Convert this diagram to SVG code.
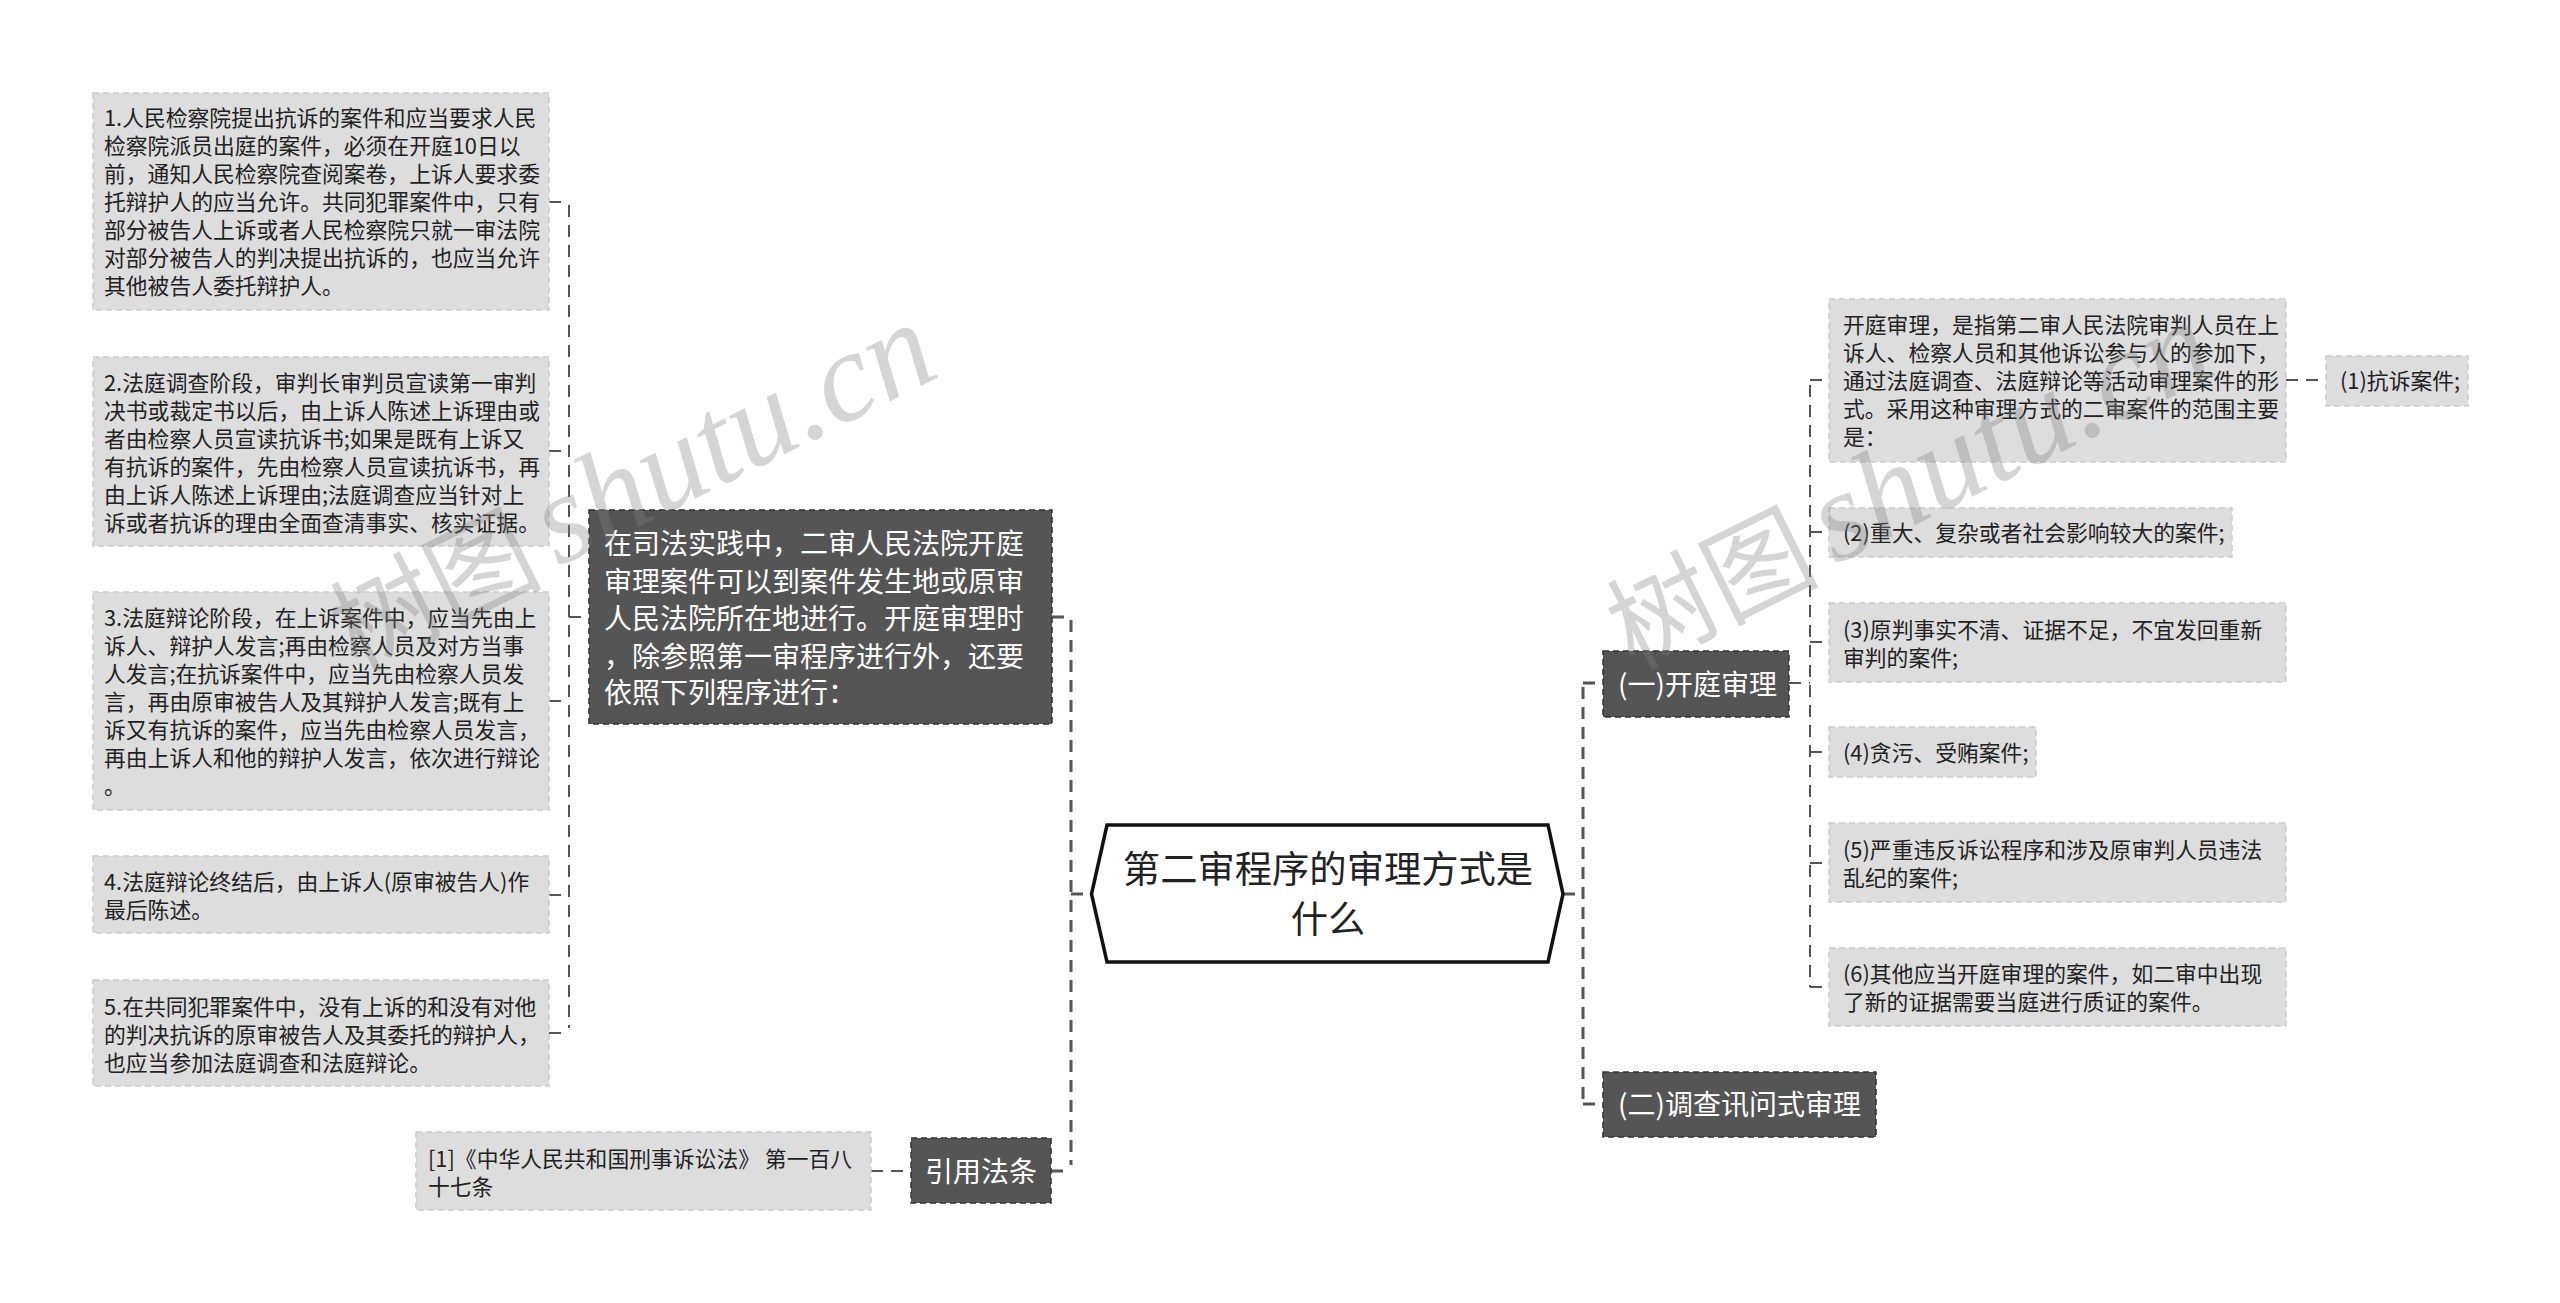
<svg xmlns="http://www.w3.org/2000/svg" width="2560" height="1303" viewBox="0 0 2560 1303">
<style>
text{font-family:"Noto Sans CJK SC","Liberation Sans",sans-serif}
.l{fill:#ddd;stroke:#ccc;stroke-width:1.5;stroke-dasharray:6 4}
.d{fill:#555;stroke:#333;stroke-width:1.5;stroke-dasharray:6 4}
.lt{font-size:21.8px;fill:#222}
.dt{font-size:28px;fill:#fff}
.c{fill:none;stroke:#555;stroke-width:2;stroke-dasharray:12 8}
.c2{fill:none;stroke:#555;stroke-width:3;stroke-dasharray:12 8}
.wm{fill:#808080;fill-opacity:.33}
.wl{font-family:"Liberation Serif",serif;font-style:italic;font-size:128px}
.wc{font-size:106px;text-anchor:end}
</style>
<rect width="2560" height="1303" fill="#fff"/>
<g id="connectors">
<path class="c" d="M549 202H569M569 205V1028M549 451H569M549 701H569M549 895H569M549 1033H569M569 617H589"/>
<path class="c2" d="M1052 617H1071M1071 620V1165M1051 1171H1071M1071 894H1091"/>
<path class="c" d="M871 1171H911"/>
<path class="c2" d="M1563 894H1583M1583 687V1103M1583 683H1603M1583 1104H1603"/>
<path class="c" d="M1789 683H1810M1810 385V987M1810 380H1829M1810 532H1829M1810 642H1829M1810 752H1829M1810 863H1829M1810 987H1829M2286 380H2326"/>
</g>
<g id="root"><polygon points="1107,825 1548,825 1563,894 1548,962 1107,962 1091.500,894" fill="#fff" stroke="#111" stroke-width="3.500"/>
<text x="1328" y="883" font-size="37.300" fill="#222" text-anchor="middle">第二审程序的审理方式是</text><text x="1328" y="933" font-size="37.300" fill="#222" text-anchor="middle">什么</text></g>
<g id="L1"><rect class="l" x="93" y="93" width="456" height="217"/><g class="lt"><text x="104" y="126">1.人民检察院提出抗诉的案件和应当要求人民</text><text x="104" y="154">检察院派员出庭的案件，必须在开庭10日以</text><text x="104" y="182">前，通知人民检察院查阅案卷，上诉人要求委</text><text x="104" y="210">托辩护人的应当允许。共同犯罪案件中，只有</text><text x="104" y="238">部分被告人上诉或者人民检察院只就一审法院</text><text x="104" y="266">对部分被告人的判决提出抗诉的，也应当允许</text><text x="104" y="294">其他被告人委托辩护人。</text></g></g>
<g id="L2"><rect class="l" x="93" y="357" width="456" height="189"/><g class="lt"><text x="104" y="391">2.法庭调查阶段，审判长审判员宣读第一审判</text><text x="104" y="419">决书或裁定书以后，由上诉人陈述上诉理由或</text><text x="104" y="447">者由检察人员宣读抗诉书;如果是既有上诉又</text><text x="104" y="475">有抗诉的案件，先由检察人员宣读抗诉书，再</text><text x="104" y="503">由上诉人陈述上诉理由;法庭调查应当针对上</text><text x="104" y="531">诉或者抗诉的理由全面查清事实、核实证据。</text></g></g>
<g id="L3"><rect class="l" x="93" y="592" width="456" height="218"/><g class="lt"><text x="104" y="626">3.法庭辩论阶段，在上诉案件中，应当先由上</text><text x="104" y="654">诉人、辩护人发言;再由检察人员及对方当事</text><text x="104" y="682">人发言;在抗诉案件中，应当先由检察人员发</text><text x="104" y="710">言，再由原审被告人及其辩护人发言;既有上</text><text x="104" y="738">诉又有抗诉的案件，应当先由检察人员发言，</text><text x="104" y="766">再由上诉人和他的辩护人发言，依次进行辩论</text><text x="104" y="794">。</text></g></g>
<g id="L4"><rect class="l" x="93" y="856" width="456" height="77"/><g class="lt"><text x="104" y="890">4.法庭辩论终结后，由上诉人(原审被告人)作</text><text x="104" y="918">最后陈述。</text></g></g>
<g id="L5"><rect class="l" x="93" y="980" width="456" height="106"/><g class="lt"><text x="104" y="1015">5.在共同犯罪案件中，没有上诉的和没有对他</text><text x="104" y="1043">的判决抗诉的原审被告人及其委托的辩护人，</text><text x="104" y="1071">也应当参加法庭调查和法庭辩论。</text></g></g>
<g id="D1"><rect class="d" x="589" y="510" width="463" height="214"/><g class="dt"><text x="604" y="554">在司法实践中，二审人民法院开庭</text><text x="604" y="592">审理案件可以到案件发生地或原审</text><text x="604" y="629">人民法院所在地进行。开庭审理时</text><text x="604" y="667">，除参照第一审程序进行外，还要</text><text x="604" y="703">依照下列程序进行：</text></g></g>
<g id="D2"><rect class="d" x="911" y="1138" width="140" height="65"/><text class="dt" x="981" y="1182" text-anchor="middle">引用法条</text></g>
<g id="Ref"><rect class="l" x="416" y="1132" width="455" height="78"/><g class="lt"><text x="428" y="1167">[1]《中华人民共和国刑事诉讼法》 第一百八</text><text x="428" y="1195">十七条</text></g></g>
<g id="D3"><rect class="d" x="1603" y="651" width="186" height="66"/><text class="dt" x="1618" y="695">(一)开庭审理</text></g>
<g id="D4"><rect class="d" x="1603" y="1072" width="273" height="65"/><text class="dt" x="1618" y="1115">(二)调查讯问式审理</text></g>
<g id="R1"><rect class="l" x="1829" y="299" width="457" height="163"/><g class="lt"><text x="1843" y="333">开庭审理，是指第二审人民法院审判人员在上</text><text x="1843" y="361">诉人、检察人员和其他诉讼参与人的参加下，</text><text x="1843" y="389">通过法庭调查、法庭辩论等活动审理案件的形</text><text x="1843" y="417">式。采用这种审理方式的二审案件的范围主要</text><text x="1843" y="445">是：</text></g></g>
<g id="R1a"><rect class="l" x="2326" y="356" width="142" height="50"/><text class="lt" x="2340" y="389">(1)抗诉案件;</text></g>
<g id="R2"><rect class="l" x="1829" y="508" width="403" height="49"/><text class="lt" x="1843" y="541">(2)重大、复杂或者社会影响较大的案件;</text></g>
<g id="R3"><rect class="l" x="1829" y="603" width="457" height="79"/><g class="lt"><text x="1843" y="638">(3)原判事实不清、证据不足，不宜发回重新</text><text x="1843" y="666">审判的案件;</text></g></g>
<g id="R4"><rect class="l" x="1829" y="727" width="207" height="50"/><text class="lt" x="1843" y="761">(4)贪污、受贿案件;</text></g>
<g id="R5"><rect class="l" x="1829" y="823" width="457" height="79"/><g class="lt"><text x="1843" y="858">(5)严重违反诉讼程序和涉及原审判人员违法</text><text x="1843" y="886">乱纪的案件;</text></g></g>
<g id="R6"><rect class="l" x="1829" y="948" width="457" height="78"/><g class="lt"><text x="1843" y="982">(6)其他应当开庭审理的案件，如二审中出现</text><text x="1843" y="1010">了新的证据需要当庭进行质证的案件。</text></g></g>
<g id="watermarks" class="wm">
<g transform="translate(558 567) rotate(-26.500)"><text class="wc" x="-16" y="4">树图</text><text class="wl" x="0" y="0">shutu.cn</text></g>
<g transform="translate(1835 565) rotate(-26.500)"><text class="wc" x="-16" y="4">树图</text><text class="wl" x="0" y="0">shutu.cn</text></g>
</g>
</svg>
